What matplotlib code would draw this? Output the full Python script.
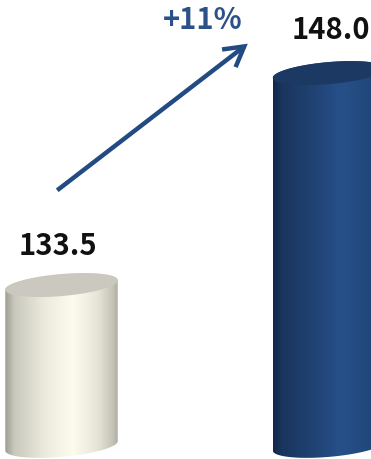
import numpy as np
import matplotlib
matplotlib.use("Agg")
import matplotlib.pyplot as plt
from matplotlib.path import Path
from matplotlib.patches import PathPatch, FancyArrowPatch
from matplotlib.colors import LinearSegmentedColormap

# data
categories = ["Before", "After"]
values = [133.5, 148.0]
value_labels = ["133.5", "148.0"]
growth_label = "+11%"
axis_floor = 122.5   # truncated value axis starts here

W, H = 371, 459
fig = plt.figure(figsize=(W / 100, H / 100), dpi=100)
ax = fig.add_axes([0, 0, 1, 1])
ax.set_xlim(-0.23, 1.157)
ax.set_ylim(121.6, 153.0)
ax.axis("off")

body_cmaps = [
    LinearSegmentedColormap.from_list("cream", [
        (0.00, "#9c9c90"), (0.08, "#c9c8bc"), (0.35, "#ebeadd"),
        (0.60, "#fdfcee"), (0.82, "#e6e5d8"), (0.95, "#c6c5b8"), (1.00, "#b0afa3")]),
    LinearSegmentedColormap.from_list("navy", [
        (0.00, "#13274a"), (0.08, "#1a355e"), (0.35, "#1f4272"),
        (0.60, "#27508a"), (0.85, "#21487a"), (1.00, "#1c3b66")]),
]
top_colors = ["#cbc9bf", "#1c3963"]
bar_width = 0.422
tilt = np.deg2rad(5)
ry = 11.0  # vertical semi-axis of the ellipses, in pixels

to_data = ax.transData.inverted()


def ellipse_pts(cx, cy, rx, t):
    x = cx + rx * np.cos(t) * np.cos(tilt) - ry * np.sin(t) * np.sin(tilt)
    y = cy + rx * np.cos(t) * np.sin(tilt) + ry * np.sin(t) * np.cos(tilt)
    return np.column_stack([x, y])


for i, (val, cmap, topc) in enumerate(zip(values, body_cmaps, top_colors)):
    (cx, top_y) = ax.transData.transform((i, val))
    (_, bot_y) = ax.transData.transform((i, axis_floor))
    (xl, _) = ax.transData.transform((i - bar_width / 2, val))
    rx = cx - xl

    lower = ellipse_pts(cx, bot_y, rx, np.linspace(np.pi, 2 * np.pi, 80))
    upper = ellipse_pts(cx, top_y, rx, np.linspace(0, np.pi, 80))
    outline = to_data.transform(np.vstack([lower, upper]))
    body = PathPatch(Path(np.vstack([outline, outline[:1]]), closed=True),
                     facecolor="none", edgecolor="none")
    ax.add_patch(body)

    grad = np.linspace(0, 1, 256).reshape(1, -1)
    x0, x1 = outline[:, 0].min(), outline[:, 0].max()
    y0, y1 = outline[:, 1].min(), outline[:, 1].max()
    im = ax.imshow(grad, cmap=cmap, aspect="auto", extent=[x0, x1, y0, y1],
                   interpolation="bilinear", zorder=2)
    im.set_clip_path(body)

    cap = to_data.transform(ellipse_pts(cx, top_y, rx, np.linspace(0, 2 * np.pi, 160)))
    ax.add_patch(PathPatch(Path(cap, closed=True), facecolor=topc,
                           edgecolor="none", zorder=3))
    ax.set_xlim(-0.23, 1.157)
    ax.set_ylim(121.6, 153.0)

label_font = ["Noto Sans CJK KR", "DejaVu Sans"]

# value labels above each cylinder (offsets in pixels)
label_dx = [-4, 2]
label_dy = [39, 43]
for i, (val, lab) in enumerate(zip(values, value_labels)):
    ax.annotate(lab, xy=(i, val), xytext=(label_dx[i] * 0.72, label_dy[i] * 0.72),
                textcoords="offset points", ha="center", va="center",
                fontsize=21, fontweight="bold", family=label_font,
                color="#111111", zorder=5)

# growth arrow
arrow = FancyArrowPatch((55 / W, 1 - 192 / H), (250 / W, 1 - 42 / H),
                        transform=ax.transAxes,
                        arrowstyle="->,head_length=14,head_width=8",
                        mutation_scale=1, linewidth=3.2, color="#214b82",
                        capstyle="butt", joinstyle="miter", zorder=4)
ax.add_patch(arrow)
ax.text(203 / W, 1 - 20 / H, growth_label, transform=ax.transAxes,
        ha="center", va="center", fontsize=21, fontweight="bold",
        family=label_font, color="#2b5189", zorder=5)

fig.savefig("out.png", dpi=100)
